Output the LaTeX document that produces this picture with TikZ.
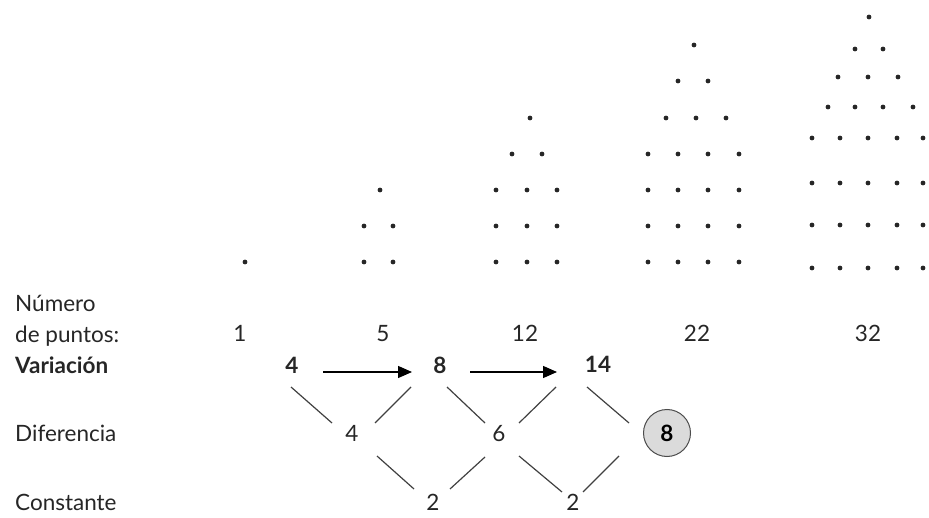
\documentclass[tikz,border=0pt]{standalone}
\usepackage{fontspec}
\setmainfont{Lato}
\usetikzlibrary{calc,arrows.meta}
\begin{document}
\begin{tikzpicture}[x=1pt,y=-1pt,
  txt/.style={inner sep=0pt,anchor=base,text=black!85,font=\fontsize{22.5}{26}\selectfont},
  lbl/.style={txt,anchor=base west},
  bnum/.style={txt,font=\fontsize{22.5}{26}\selectfont\bfseries},
  dot/.style={fill=black!85,draw=none},
  diag/.style={draw=black!75,line width=1.2pt},
  arr/.style={draw=black,line width=1.4pt,-{Triangle[length=14pt,width=12pt]}},
  circ/.style={circle,draw=black!70,line width=1pt,fill=black!14,minimum size=47pt,inner sep=0pt,font=\fontsize{22.5}{26}\selectfont\bfseries}]
\useasboundingbox (0,0) rectangle (929,518);
% dots
\foreach \p in {(245,262),
  (380,190),(364,226),(393,226),(364,262),(393,262),
  (530,118),(512,154),(542,154),
  (496,190),(527,190),(557,190),(496,226),(527,226),(557,226),(496,262),(527,262),(557,262),
  (694,45),(678,81),(708,81),(666,118),(696,118),(726,118),
  (648,154),(678,154),(708,154),(739,154),
  (648,190),(678,190),(708,190),(739,190),
  (648,226),(678,226),(708,226),(739,226),
  (648,262),(678,262),(708,262),(739,262),
  (869,17),(855,49),(883,49),(838,77),(868,77),(898,77),
  (828,107),(855,107),(883,107),(913,107),
  (812,138),(840,138),(868,138),(897,138),(923,138),
  (812,183),(840,183),(868,183),(897,183),(923,183),
  (812,225),(840,225),(868,225),(897,225),(923,225),
  (812,268),(840,268),(868,268),(897,268),(923,268)}
  \fill[dot] \p circle (2.4);
% labels
\node[lbl] (lnum) at (15,312) {Número};
\node[lbl] (lpts) at (15,343) {de puntos:};
\node[lbl,font=\fontsize{22.5}{26}\selectfont\bfseries] (lvar) at (15,374) {Variación};
\node[lbl] (ldif) at (15,442) {Diferencia};
\node[lbl] (lcon) at (15,510) {Constante};
% numbers of points
\node[txt] (n1) at (240,342) {1};
\node[txt] (n5) at (383,342) {5};
\node[txt] (n12) at (525,342) {12};
\node[txt] (n22) at (697,342) {22};
\node[txt] (n32) at (868,342) {32};
% variation
\node[bnum] (v4) at (292,374) {4};
\node[bnum] (v8) at (440,374) {8};
\node[bnum] (v14) at (598,373) {14};
% difference
\node[txt] (d4) at (352,442) {4};
\node[txt] (d6) at (499,442) {6};
\node[circ] (c8) at (667,433) {8};
% constant
\node[txt] (k2a) at (433,510) {2};
\node[txt] (k2b) at (573,510) {2};
% arrows
\draw[arr] ($(v4.base)+(31,-2)$) -- ($(v8.base)+(-28,-2)$);
\draw[arr] ($(v8.base)+(30,-2)$) -- ($(v14.base)+(-41,-1)$);
% diagonals
\draw[diag] ($(v4.base)+(-1,13)$) -- ($(d4.base)+(-20,-19)$);
\draw[diag] ($(d4.base)+(23,-19)$) -- ($(v8.base)+(-29,13)$);
\draw[diag] ($(d4.base)+(25,14)$) -- ($(k2a.base)+(-19,-21)$);
\draw[diag] ($(v8.base)+(7,13)$) -- ($(d6.base)+(-14,-19)$);
\draw[diag] ($(k2a.base)+(17,-21)$) -- ($(d6.base)+(-14,15)$);
\draw[diag] ($(d6.base)+(20,-19)$) -- ($(v14.base)+(-42,14)$);
\draw[diag] ($(v14.base)+(-11,14)$) -- ($(c8.center)+(-38,-10)$);
\draw[diag] ($(d6.base)+(20,14)$) -- ($(k2b.base)+(-11,-18)$);
\draw[diag] ($(k2b.base)+(10,-18)$) -- ($(c8.center)+(-48,23)$);
\end{tikzpicture}
\end{document}
